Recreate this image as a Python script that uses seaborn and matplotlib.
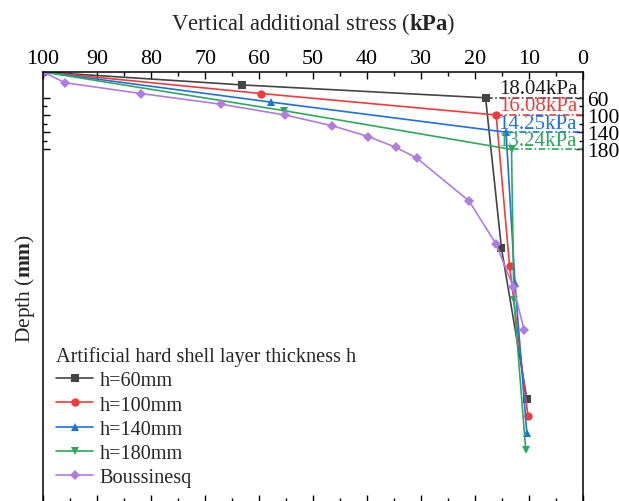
import numpy as np
import pandas as pd
import matplotlib
matplotlib.use("Agg")
import matplotlib.pyplot as plt
import seaborn as sns

# Stress (kPa) versus depth (mm) for each hard-shell thickness
depth_h60 = [0, 30, 60, 410, 760]
stress_h60 = [100, 63.2, 18.04, 15.1, 10.4]
depth_h100 = [0, 50, 100, 450, 800]
stress_h100 = [100, 59.7, 16.08, 13.6, 10.2]
depth_h140 = [0, 70, 140, 490, 840]
stress_h140 = [100, 57.8, 14.25, 12.6, 10.4]
depth_h180 = [0, 90, 180, 530, 880]
stress_h180 = [100, 55.3, 13.24, 12.8, 10.6]
depth_bous = [0, 25, 50, 75, 100, 125, 150, 175, 200, 300, 400, 500, 600]
stress_bous = [100, 95.9, 81.9, 67.0, 55.2, 46.4, 39.8, 34.7, 30.8, 21.1, 16.1, 12.9, 10.9]

series_labels = ["h=60mm", "h=100mm", "h=140mm", "h=180mm", "Boussinesq"]
layer_depths = [60, 100, 140, 180]
layer_stress = [18.04, 16.08, 14.25, 13.24]
x_ticks = [0, 10, 20, 30, 40, 50, 60, 70, 80, 90, 100]
y_ticks = [60, 100, 140, 180]

sns.set_theme(style="ticks")
plt.rcParams["font.family"] = ["Liberation Serif", "DejaVu Serif"]
plt.rcParams["mathtext.fontset"] = "custom"
plt.rcParams["mathtext.rm"] = "Liberation Serif"
plt.rcParams["mathtext.bf"] = "Liberation Serif:bold"

colors = ["#444444", "#f23b3b", "#1f6fe0", "#2ea85e", "#b07ce0"]
text_colors = ["#1a1a1a", "#f23b3b", "#1f6fe0", "#2ea85e"]
markers = ["s", "o", "^", "v", "D"]
sizes = [5.5, 6, 6, 6, 5.5]

frames = []
for lab, d, s in zip(series_labels,
                     [depth_h60, depth_h100, depth_h140, depth_h180, depth_bous],
                     [stress_h60, stress_h100, stress_h140, stress_h180, stress_bous]):
    frames.append(pd.DataFrame({"series": lab, "depth": d, "stress": s}))
df = pd.concat(frames, ignore_index=True)

fig = plt.figure(figsize=(6.19, 5.02), dpi=100)
ax = fig.add_axes([43 / 619, -1 / 502, 540 / 619, 430 / 502])

for lab, c, m, ms in zip(series_labels, colors, markers, sizes):
    sub = df[df["series"] == lab]
    sns.lineplot(data=sub, x="stress", y="depth", sort=False, estimator=None,
                 color=c, marker=m, markersize=ms, markeredgewidth=0,
                 linewidth=1.2, label=lab, ax=ax)

# dash-dot guides from each layer-bottom value to the right border
for d, v, c, tc in zip(layer_depths, layer_stress, colors[:4], text_colors):
    ax.plot([v, 0], [d, d], color=c, linestyle=(0, (4, 1.5, 1, 1.5)), linewidth=1.2)
    ax.text(1.1, d + 1, f"{v:.2f}kPa", color=tc, fontsize=15, ha="right", va="bottom")

ax.set_xlim(100, 0)
ax.set_ylim(1000, 0)
ax.set_xticks(x_ticks)
ax.set_xticks(np.arange(5, 100, 10), minor=True)
ax.set_yticks(y_ticks)
ax.set_yticks([80, 120, 160], minor=True)

ax.xaxis.set_label_position("top")
ax.tick_params(axis="x", which="both", top=True, bottom=True, labeltop=True,
               labelbottom=False, direction="in", colors="black", labelsize=15.8, pad=3)
ax.tick_params(axis="y", which="both", left=True, right=True, labelleft=False,
               labelright=True, direction="in", colors="black", labelsize=15.5, pad=3)
ax.tick_params(which="major", length=5, width=1)
ax.tick_params(which="minor", length=3, width=1)
for sp in ax.spines.values():
    sp.set_color("black")
    sp.set_linewidth(1.1)

ax.set_xlabel(r"Vertical additional stress ($\mathbf{kPa}$)", fontsize=16.3, labelpad=14)
ax.set_ylabel(r"Depth ($\mathbf{mm}$)", fontsize=15.5, labelpad=4)

ax.legend(title="Artificial hard shell layer thickness h", loc="upper left",
          bbox_to_anchor=(0.024, 0.362), frameon=False, alignment="left",
          fontsize=14.6, title_fontsize=14.6, borderpad=0, borderaxespad=0,
          handlelength=1.85, handletextpad=0.3, labelspacing=0.245)

fig.savefig("out.png", dpi=100)
